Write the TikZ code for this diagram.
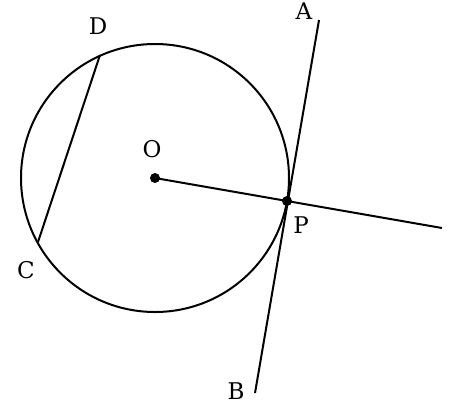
\documentclass[tikz,border=0pt]{standalone}
\usepackage{fontspec}
\setmainfont{DejaVu Serif}
\begin{document}
\begin{tikzpicture}[x=1pt,y=-1pt,line width=2pt]
	\useasboundingbox (0,0) rectangle (462,405);
	\fontsize{23}{26}\selectfont
	\tikzset{dot/.style={circle,fill,inner sep=0pt,minimum size=10pt},
		lbl/.style={inner sep=0pt}}
	% points on the figure
	\coordinate (O) at (155,178);
	\coordinate (P) at (287,201);
	\coordinate (A) at (319,20);
	\coordinate (B) at (255,393);
	\coordinate (E) at (442,228);
	\coordinate (D) at (100,55);
	\coordinate (C) at (38,242);

	\draw (O) circle (134pt);
	\draw (D) -- (C);
	\draw (A) -- (B);
	\draw (O) -- (E);

	\node[dot] (dO) at (O) {};
	\node[dot] (dP) at (P) {};

	\node[lbl] (lA) at (304,11) {A};
	\node[lbl] (lB) at (236,391) {B};
	\node[lbl] (lC) at (26,270) {C};
	\node[lbl] (lD) at (98,26) {D};
	\node[lbl] (lO) at (152,149) {O};
	\node[lbl] (lP) at (301,225) {P};
\end{tikzpicture}
\end{document}
